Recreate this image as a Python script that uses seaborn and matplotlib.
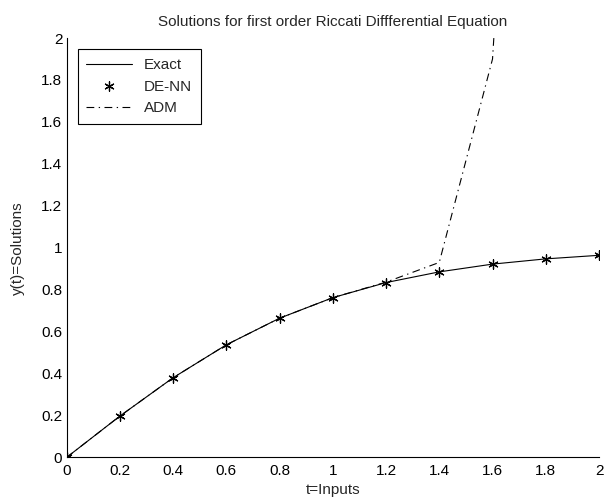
import matplotlib
matplotlib.use("Agg")
import matplotlib.pyplot as plt
import seaborn as sns
import pandas as pd

# values
t = [0.0, 0.2, 0.4, 0.6, 0.8, 1.0, 1.2, 1.4, 1.6, 1.8, 2.0]
exact = [0.0, 0.197, 0.380, 0.537, 0.664, 0.762, 0.834, 0.885, 0.922, 0.947, 0.964]
de_nn = [0.0, 0.197, 0.380, 0.537, 0.664, 0.762, 0.834, 0.885, 0.922, 0.947, 0.964]
# ADM leaves the plot above t=1.6; last two values are guesses off the top
adm = [0.0, 0.197, 0.380, 0.537, 0.664, 0.762, 0.836, 0.93, 1.9, 6.0, 15.0]

x_ticks = [0, 0.2, 0.4, 0.6, 0.8, 1, 1.2, 1.4, 1.6, 1.8, 2]
y_ticks = [0, 0.2, 0.4, 0.6, 0.8, 1, 1.2, 1.4, 1.6, 1.8, 2]

df = pd.DataFrame({"t": t, "exact": exact, "de_nn": de_nn, "adm": adm})

sns.set_style("white")
plt.rcParams['font.family'] = ['Liberation Sans Narrow', 'Liberation Sans', 'DejaVu Sans']

fig = plt.figure(figsize=(6.12, 4.99), dpi=100)
ax = fig.add_axes([0.1087, 0.0832, 0.9788 - 0.1087, 0.9238 - 0.0832])

sns.lineplot(data=df, x="t", y="exact", ax=ax, color="black", linewidth=0.8,
             label="Exact")
sns.scatterplot(data=df, x="t", y="de_nn", ax=ax, marker=(6, 2, 0), s=45,
                color="black", edgecolor="black", linewidth=0.9, label="DE-NN",
                zorder=3)
sns.lineplot(data=df, x="t", y="adm", ax=ax, color="black", linewidth=0.8,
             dashes=False, label="ADM")
adm_line = ax.get_lines()[-1]
adm_line.set_dashes((7, 4, 1.2, 4))

ax.set_xlim(0, 2)
ax.set_ylim(0, 2)
ax.set_xticks(x_ticks)
ax.set_xticklabels([f"{v:g}" for v in x_ticks])
ax.set_yticks(y_ticks)
ax.set_yticklabels([f"{v:g}" for v in y_ticks])
ax.tick_params(direction="in", length=4, width=0.8, colors="black", labelsize=11, pad=3)
ax.tick_params(axis="x", pad=5)

for side in ["top", "right"]:
    ax.spines[side].set_visible(False)
for side in ["left", "bottom"]:
    ax.spines[side].set_color("black")
    ax.spines[side].set_linewidth(0.8)

ax.set_title("Solutions for first order Riccati Diffferential Equation", fontsize=11, pad=9)
ax.set_xlabel("t=Inputs", fontsize=11, labelpad=3)
ax.set_ylabel("y(t)=Solutions", fontsize=11, labelpad=12)

leg = ax.legend(loc="upper left", bbox_to_anchor=(0.015, 0.98), fancybox=False,
                edgecolor="black", framealpha=1, handlelength=3.0, borderpad=0.55,
                labelspacing=0.5, fontsize=11, borderaxespad=0.2)
leg.get_frame().set_linewidth(0.8)

fig.savefig("out.png", dpi=100)
